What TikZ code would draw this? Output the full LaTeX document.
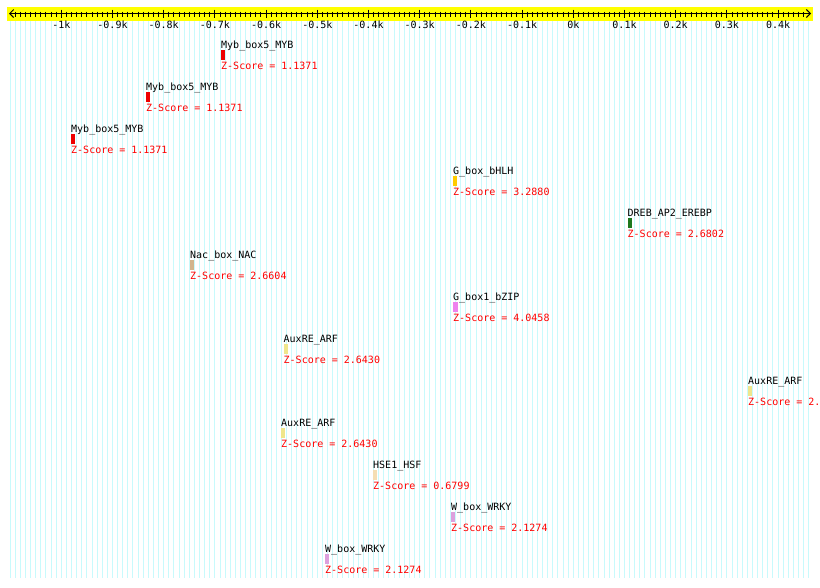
\documentclass[tikz,border=0pt]{standalone}
\usepackage{fontspec}
\setmonofont{DejaVu Sans Mono}
\usetikzlibrary{arrows.meta}
\definecolor{gridc}{RGB}{200,250,252}
\definecolor{bandc}{RGB}{255,255,0}
\definecolor{zred}{RGB}{255,0,0}
\definecolor{mybc}{RGB}{238,0,0}
\definecolor{bhlhc}{RGB}{255,204,0}
\definecolor{drebc}{RGB}{30,120,30}
\definecolor{nacc}{RGB}{210,180,140}
\definecolor{bzipc}{RGB}{238,130,238}
\definecolor{auxc}{RGB}{240,230,140}
\definecolor{hsfc}{RGB}{245,222,179}
\definecolor{wrkyc}{RGB}{221,160,221}
\begin{document}
\begin{tikzpicture}[x=1pt,y=-1pt,
  mono/.style={inner sep=0pt,font=\ttfamily\fontsize{10}{12}\selectfont},
  lbl/.style={mono,anchor=base west,text=black},
  zs/.style={mono,anchor=base west,text=zred},
  tk/.style={mono,anchor=base,text=black},
  barb/.style={{Straight Barb[length=4pt,width=8pt]}-{Straight Barb[length=4pt,width=8pt]}}]
\fill[white] (0,0) rectangle (820,587);
\useasboundingbox (0,0) rectangle (820,587);
% grid
\foreach \i in {-110,...,46} {
  \draw[gridc,line width=1pt] ({573.3+5.12*\i},21) -- ({573.3+5.12*\i},578);
}
% yellow band
\fill[bandc] (7,7) rectangle (813,21);
% axis
\draw[black,line width=1pt,barb] (9,13.5) -- (811,13.5);
\foreach \i in {-109,...,45} {
  \draw[black,line width=1pt] ({573.3+5.12*\i},11.5) -- ({573.3+5.12*\i},16.5);
}
\foreach \i in {-100,-90,...,40} {
  \draw[black,line width=1pt] ({573.3+5.12*\i},9.5) -- ({573.3+5.12*\i},18);
}
\foreach \v/\t [count=\n] in {-100/-1k,-90/-0.9k,-80/-0.8k,-70/-0.7k,-60/-0.6k,-50/-0.5k,-40/-0.4k,-30/-0.3k,-20/-0.2k,-10/-0.1k,0/0k,10/0.1k,20/0.2k,30/0.3k,40/0.4k} {
  \node[tk] (tick\n) at ({573.3+5.12*\v},28.5) {\t};
}
% motifs
\foreach \x/\k/\c/\w/\name/\score [count=\n] in {
  221/0/mybc/4/Myb\_box5\_MYB/Z-Score = 1.1371,
  146/1/mybc/4/Myb\_box5\_MYB/Z-Score = 1.1371,
  71/2/mybc/4/Myb\_box5\_MYB/Z-Score = 1.1371,
  453/3/bhlhc/4/G\_box\_bHLH/Z-Score = 3.2880,
  627.5/4/drebc/4/DREB\_AP2\_EREBP/Z-Score = 2.6802,
  190/5/nacc/4/Nac\_box\_NAC/Z-Score = 2.6604,
  453/6/bzipc/5/G\_box1\_bZIP/Z-Score = 4.0458,
  283.5/7/auxc/4/AuxRE\_ARF/Z-Score = 2.6430,
  748/8/auxc/4/AuxRE\_ARF/Z-Score = 2.,
  281/9/auxc/4/AuxRE\_ARF/Z-Score = 2.6430,
  373/10/hsfc/4/HSE1\_HSF/Z-Score = 0.6799,
  451/11/wrkyc/4/W\_box\_WRKY/Z-Score = 2.1274,
  325/12/wrkyc/4/W\_box\_WRKY/Z-Score = 2.1274} {
  \node[lbl] (name\n) at (\x,{48+42*\k}) {\name};
  \fill[\c] (\x,{49.5+42*\k}) rectangle ({\x+\w},{59.5+42*\k});
  \node[zs] (score\n) at (\x,{69+42*\k}) {\score};
}
\end{tikzpicture}
\end{document}
